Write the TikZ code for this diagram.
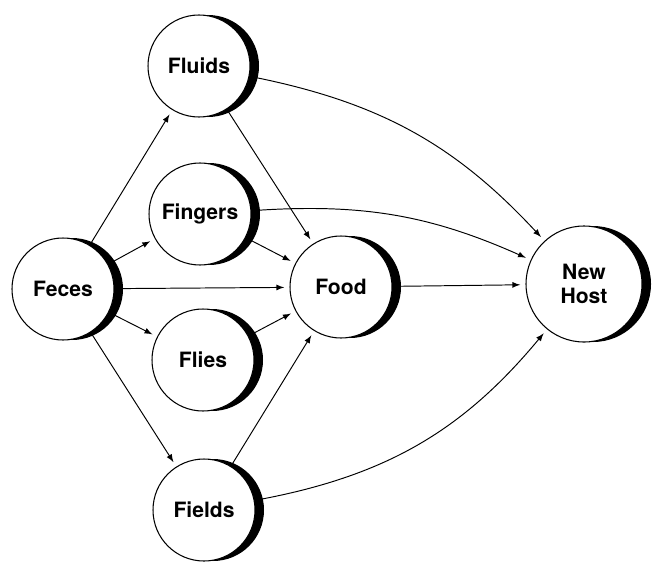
\documentclass[tikz,border=0pt]{standalone}
\usepackage{fontspec}
\setmainfont{TeX Gyre Heros}
\usetikzlibrary{arrows,shadows}

\begin{document}
\begin{tikzpicture}[
  spot/.style={circle, draw, line width=0.6pt, fill=white, minimum size=2.04cm,
    inner sep=0pt, align=center, font=\bfseries\fontsize{12}{13.5}\selectfont,
    drop shadow={shadow xshift=0.18cm, shadow yshift=0cm, fill=black, opacity=1}},
  route/.style={-latex, line width=0.55pt, shorten >=3pt}
]
\useasboundingbox (0,0) rectangle (13.06,11.22);

\node [spot] (feces) at (1.26,5.44) {Feces};
\node [spot] (fluids) at (3.98,9.90) {Fluids};
\node [spot] (fingers) at (4.00,6.94) {Fingers};
\node [spot] (flies) at (4.06,4.02) {Flies};
\node [spot] (fields) at (4.08,1.02) {Fields};
\node [spot] (food) at (6.82,5.48) {Food};
\node [spot, minimum size=2.32cm] (host) at (11.68,5.54) {New\\Host};

\draw [route] (feces) edge (fluids);
\draw [route] (feces) edge (fingers);
\draw [route] (feces) edge (food);
\draw [route] (feces) edge (flies);
\draw [route] (feces) edge (fields);

\draw [route] (fluids) edge (food);
\draw [route] (fingers) edge (food);
\draw [route] (flies) edge (food);
\draw [route] (fields) edge (food);

\draw [route] (fluids) edge [bend left=18] (host);
\draw [route] (fingers) edge [bend left=14] (host);
\draw [route] (food) edge (host);
\draw [route] (fields) edge [bend right=20] (host);

\end{tikzpicture}
\end{document}
